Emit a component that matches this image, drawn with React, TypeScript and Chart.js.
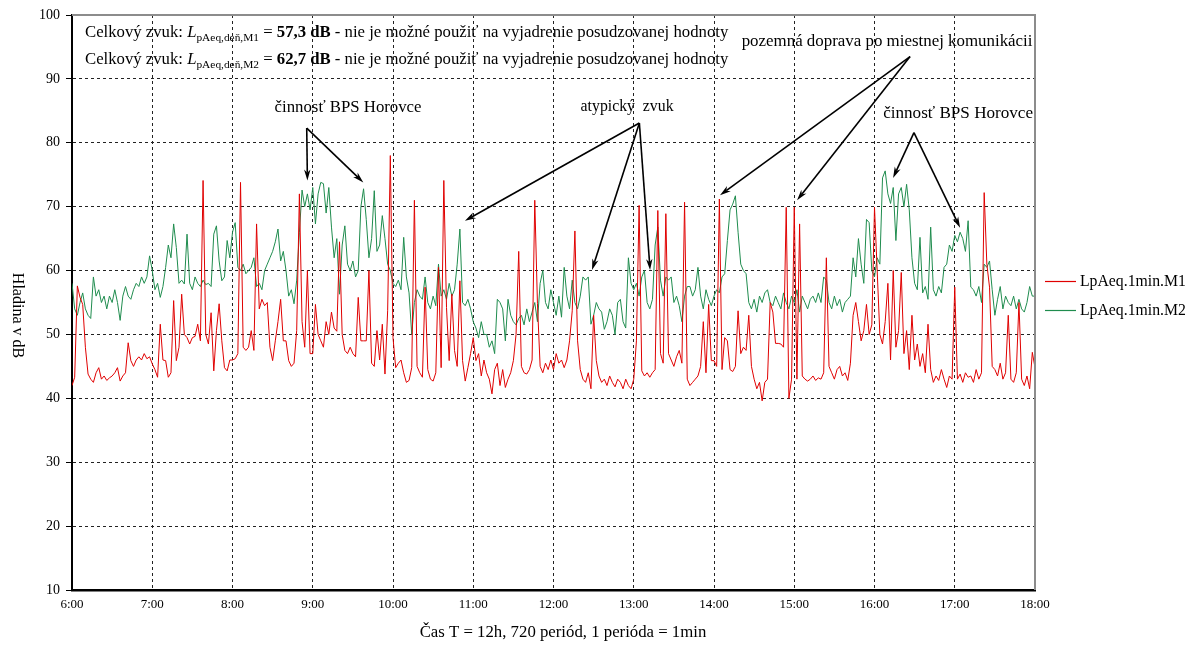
import React, { useEffect, useRef } from "react";
import { Chart, registerables } from "chart.js";

Chart.register(...registerables);

// ---------- data ----------
const hourLabels = ["6:00", "7:00", "8:00", "9:00", "10:00", "11:00", "12:00", "13:00", "14:00", "15:00", "16:00", "17:00", "18:00"];
const stepMinutes = 2; // one value every 2 minutes, 6:00 .. 18:00
const seriesNames = ["LpAeq.1min.M1", "LpAeq.1min.M2"];

const m1 = [
  42, 43.3, 57.6, 55.8, 54.7, 48, 43.8, 43, 42.5, 44,
  44.8, 43, 43.5, 42.8, 43.2, 43.5, 44, 44.8, 42.7, 43.5,
  44, 48.7, 45.9, 45, 46, 46.5, 46, 47, 46.2, 46.5,
  45.4, 44.5, 43.3, 51.6, 46, 45.9, 43.3, 44, 55.3, 45.9,
  48, 56.3, 50, 49.5, 48.5, 49.5, 49.7, 51.6, 49, 74.1,
  50, 48.5, 53.4, 44.3, 50.6, 54.8, 49, 44.8, 44.3, 46,
  46, 46.2, 47, 73.8, 48, 47.5, 48, 50.6, 47.5, 67.3,
  54, 55.5, 54.5, 55, 48, 45.9, 49, 52, 55.5, 49,
  49, 45.9, 45, 45.5, 50.6, 72, 52, 48, 60, 47,
  47, 54.7, 50, 49, 48, 52, 50, 53.5, 51, 50.5,
  64.5, 50, 47.5, 47, 48, 47, 46.5, 55.8, 49, 49,
  49, 60, 45.5, 45, 50.6, 46, 51.6, 43.8, 53.7, 78,
  49.5, 44.8, 45.5, 46, 44, 42.5, 42.8, 44.8, 71, 45,
  44, 43.3, 57.4, 44.5, 43, 42.7, 44, 60.5, 44.8, 74.1,
  54.2, 45.9, 56.3, 47.5, 45, 58.4, 45.9, 42.7, 44.8, 47,
  49.5, 45.9, 47, 43.5, 46, 44, 43, 40.7, 44.5, 45.5,
  42, 44.5, 41.7, 43, 44, 45.9, 50, 63, 45, 44,
  43.8, 44.5, 46, 71, 54.8, 45, 44, 45.5, 44.5, 46,
  44.5, 47, 45.5, 46, 44.8, 46, 49, 53.7, 66.2, 49,
  44.5, 43, 42.5, 44, 41.5, 53, 45.9, 43.5, 42.5, 43,
  42, 43.5, 42.5, 41.8, 43, 42.5, 41.5, 43, 42, 41.5,
  43, 49, 70.2, 44.3, 43.5, 44, 43.3, 44, 44.5, 69.4,
  47, 45.5, 68.9, 47, 46, 45, 46.5, 47.5, 45.5, 70.7,
  43, 42, 42.5, 43, 43.5, 45, 52, 44, 54.7, 45.9,
  45.9, 45, 71.2, 44.5, 49.5, 49, 44.5, 44.2, 45, 53.7,
  47, 48, 47.5, 53, 45, 43, 41.5, 42.5, 39.6, 42.5,
  43, 55, 53.5, 48.6, 48.6, 48.5, 48, 69.9, 40, 43,
  69.9, 43, 67.3, 43.5, 43, 42.7, 43, 43.5, 42.8, 43.2,
  43, 44, 62, 45, 44, 43, 44.5, 45, 43.5, 44,
  42.8, 45.5, 53, 55, 52, 49, 50.6, 54.7, 50, 51.5,
  69.9, 60, 50, 48.5, 52, 58, 46, 60, 48, 50.6,
  59.7, 47, 50.6, 44.5, 53, 46, 48.5, 45, 47, 44,
  51.6, 44.5, 42.5, 43.5, 42.8, 44.5, 43, 41.7, 43.5, 43,
  57.4, 43, 43.8, 42.5, 44, 43.3, 43.5, 42.5, 44.5, 43,
  44, 72.2, 61, 57.4, 45, 44.5, 43.5, 45.5, 43, 44,
  53, 43, 42.5, 44, 55, 43, 42, 43.5, 41.5, 47.2,
  44.8,
];

const m2 = [
  58, 54, 53, 55, 56.5, 54, 53, 52.5, 59, 56,
  57, 55, 56, 54, 56, 55, 57, 55, 52.2, 56,
  57.5, 56, 55.5, 57, 58, 57.5, 59, 58, 59, 62.3,
  60, 57, 58, 55.8, 57.5, 60.5, 64, 62, 67.3, 63.6,
  58, 58.5, 57.9, 65.7, 58, 57, 59, 58, 57.5, 58.5,
  57.8, 58, 57.5, 65.7, 67, 61.5, 58.4, 59, 64.7, 62,
  66, 67.5, 60.5, 60, 61, 59.5, 60, 60.5, 62, 57.5,
  58, 57, 60, 61, 62, 63, 64.5, 66.5, 61.5, 63,
  60, 56, 57, 54.8, 58.5, 66, 72.6, 70, 72, 69.5,
  73, 67.3, 72, 73.8, 73.6, 69, 73, 66.8, 62, 65,
  56.3, 64, 67, 61, 60, 61.5, 59, 60, 70, 72.8,
  68, 62, 65, 72.5, 63, 64, 68.6, 65, 61, 60,
  58, 57.5, 58.5, 57, 65.2, 59, 56.5, 50, 55, 57,
  56, 55.5, 59, 55, 54, 56, 54.5, 61, 56, 57,
  55.5, 58, 56, 57, 61, 66.5, 55, 54.5, 55.5, 54,
  52, 51, 49.5, 52, 50, 50, 48, 49, 47, 55.5,
  55, 54, 49, 55.5, 53, 52, 51.5, 52.5, 53, 51.5,
  54, 52, 53.5, 55, 52, 58, 60, 55, 54, 57,
  55, 53, 56, 52.7, 60.5, 56, 54, 58.5, 55, 54,
  56, 59, 58.5, 59, 51.6, 53, 55, 54, 53.5, 50.8,
  52, 54, 53, 50, 55, 55.5, 52, 51, 62, 58,
  57, 58, 56, 59, 60, 55, 54, 55.5, 64, 66.8,
  58.5, 56, 59, 58.5, 59, 55, 56, 54.5, 52, 56,
  57.5, 57.5, 56, 57, 60.5, 56, 54, 57, 55.5, 54.5,
  56, 57, 56.5, 59, 59.5, 64.7, 69.5, 70.4, 71.7, 66,
  61, 60, 59.5, 55, 54, 55.5, 53.5, 56, 55, 56.5,
  57, 55, 54.5, 56, 55, 54, 56.5, 55, 54, 56,
  55, 57, 53.5, 56, 55, 54, 55.5, 56, 55, 56.5,
  55, 59, 58.5, 55, 54, 56, 54.5, 55.5, 53.5, 55,
  55.5, 56, 62, 59, 65, 61, 58, 68, 67.5, 60,
  59, 62, 61, 74.5, 75.6, 72, 70.5, 73, 64.7, 72,
  73, 70, 73.5, 69.5, 62, 58, 57, 65.2, 56.5, 57.5,
  55.5, 66.8, 57, 56, 57.5, 56.5, 60.5, 61, 64, 63,
  65.5, 64.5, 66, 65, 63, 67.8, 57.4, 57, 56, 57.5,
  55, 61, 60.5, 61.5, 57, 53, 55.5, 57.5, 54, 56,
  55, 54.5, 56, 54, 55.5, 54, 53.5, 55, 57.5, 56,
  56,
];

const totalLabels = ["pAeq,deň,M1", "pAeq,deň,M2"];
const totalValues = ["57,3 dB", "62,7 dB"];

// annotation texts with arrows, anchored in data units (minutes, dB)
const notes = [
  { text: "činnosť BPS Horovce", at: [206.4, 85.45], width: 147, from: [175.5, 82.3], to: [[176, 74.1], [217.8, 73.8]] },
  { text: "atypický  zvuk", at: [415, 85.65], width: 93, from: [424.2, 83.1], to: [[293.8, 67.8], [388.8, 60.1], [432.2, 60.1]] },
  { text: "pozemná doprava po miestnej komunikácii", at: [609.4, 95.8], width: 291, from: [626.6, 93.5], to: [[484.5, 71.8], [542.1, 71.0]] },
  { text: "činnosť BPS Horovce", at: [662.5, 84.66], width: 150, from: [629.5, 81.6], to: [[613.9, 74.5], [664, 66.7]] },
];

const FONT = '"Liberation Serif", "Times New Roman", serif';
const RED = "#e00000";
const GREEN = "#1f8c4e";

function fitSize(ctx: CanvasRenderingContext2D, text: string, weight: string, width: number) {
  ctx.font = `${weight} 100px ${FONT}`;
  return (100 * width) / ctx.measureText(text).width;
}

function arrow(ctx: CanvasRenderingContext2D, x1: number, y1: number, x2: number, y2: number) {
  const ang = Math.atan2(y2 - y1, x2 - x1);
  const len = 11;
  const hw = 3.2;
  ctx.beginPath();
  ctx.moveTo(x1, y1);
  ctx.lineTo(x2 - Math.cos(ang) * len * 0.7, y2 - Math.sin(ang) * len * 0.7);
  ctx.stroke();
  ctx.beginPath();
  ctx.moveTo(x2, y2);
  ctx.lineTo(x2 - Math.cos(ang) * len - Math.sin(ang) * hw, y2 - Math.sin(ang) * len + Math.cos(ang) * hw);
  ctx.lineTo(x2 - Math.cos(ang) * len * 0.7, y2 - Math.sin(ang) * len * 0.7);
  ctx.lineTo(x2 - Math.cos(ang) * len + Math.sin(ang) * hw, y2 - Math.sin(ang) * len - Math.cos(ang) * hw);
  ctx.closePath();
  ctx.fill();
}

const overlay = {
  id: "overlay",
  afterDraw(chart: any) {
    const ctx: CanvasRenderingContext2D = chart.ctx;
    const { left, right, top, bottom } = chart.chartArea;
    const xs = chart.scales.x;
    const ys = chart.scales.y;
    ctx.save();

    // frame: top and right in grey
    ctx.strokeStyle = "#8c8c8c";
    ctx.lineWidth = 2;
    ctx.beginPath();
    ctx.moveTo(left, top);
    ctx.lineTo(right, top);
    ctx.lineTo(right, bottom);
    ctx.stroke();

    ctx.fillStyle = "#000";
    ctx.textBaseline = "middle";

    // axis titles
    ctx.save();
    ctx.translate(17, (top + bottom) / 2 + 13);
    ctx.rotate(Math.PI / 2);
    ctx.textAlign = "center";
    ctx.font = `16px ${FONT}`;
    ctx.fillText("Hladina v dB", 0, 0);
    ctx.restore();

    ctx.textAlign = "center";
    const xt = "Čas T = 12h, 720 periód, 1 perióda = 1min";
    ctx.font = `${fitSize(ctx, xt, "normal", 287)}px ${FONT}`;
    ctx.fillText(xt, 563, 633);

    // total level lines
    for (let k = 0; k < 2; k++) {
      const pieces = [
        { t: "Celkový zvuk: ", st: "normal", sc: 1, dy: 0 },
        { t: "L", st: "italic", sc: 1, dy: 0 },
        { t: totalLabels[k], st: "normal", sc: 0.68, dy: 0.28 },
        { t: " = ", st: "normal", sc: 1, dy: 0 },
        { t: totalValues[k], st: "bold", sc: 1, dy: 0 },
        { t: " - nie je možné použiť na vyjadrenie posudzovanej hodnoty", st: "normal", sc: 1, dy: 0 },
      ];
      const base = 100;
      let w = 0;
      for (const p of pieces) {
        ctx.font = `${p.st} ${base * p.sc}px ${FONT}`;
        w += ctx.measureText(p.t).width;
      }
      const size = (base * 644) / w;
      let x = xs.getPixelForValue(9.7);
      const y = ys.getPixelForValue(k === 0 ? 97.18 : 92.96);
      ctx.textAlign = "left";
      for (const p of pieces) {
        ctx.font = `${p.st} ${size * p.sc}px ${FONT}`;
        ctx.fillText(p.t, x, y + p.dy * size);
        x += ctx.measureText(p.t).width;
      }
    }

    // notes with arrows
    ctx.strokeStyle = "#000";
    ctx.lineWidth = 1.6;
    for (const n of notes) {
      ctx.textAlign = "center";
      ctx.font = `${fitSize(ctx, n.text, "normal", n.width)}px ${FONT}`;
      ctx.fillText(n.text, xs.getPixelForValue(n.at[0]), ys.getPixelForValue(n.at[1]));
      const fx = xs.getPixelForValue(n.from[0]);
      const fy = ys.getPixelForValue(n.from[1]);
      for (const t of n.to) {
        arrow(ctx, fx, fy, xs.getPixelForValue(t[0]), ys.getPixelForValue(t[1]));
      }
    }

    // legend
    const colors = [RED, GREEN];
    const mid = (top + bottom) / 2;
    for (let k = 0; k < 2; k++) {
      const y = mid - 21 + k * 29;
      ctx.strokeStyle = colors[k];
      ctx.lineWidth = 1.2;
      ctx.beginPath();
      ctx.moveTo(right + 10, y);
      ctx.lineTo(right + 41, y);
      ctx.stroke();
      ctx.textAlign = "left";
      ctx.font = `${fitSize(ctx, seriesNames[k], "normal", 106)}px ${FONT}`;
      ctx.fillText(seriesNames[k], right + 45, y);
    }
    ctx.restore();
  },
};

export default function App() {
  const ref = useRef<HTMLCanvasElement>(null);
  useEffect(() => {
    const canvas = ref.current;
    if (!canvas) return;
    const chart = new Chart(canvas, {
      type: "line",
      data: {
        datasets: [
          {
            label: seriesNames[0],
            data: m1.map((v, i) => ({ x: i * stepMinutes, y: v })),
            borderColor: RED,
            borderWidth: 1,
            pointRadius: 0,
            tension: 0,
          },
          {
            label: seriesNames[1],
            data: m2.map((v, i) => ({ x: i * stepMinutes, y: v })),
            borderColor: GREEN,
            borderWidth: 1,
            pointRadius: 0,
            tension: 0,
          },
        ],
      },
      options: {
        animation: false,
        responsive: false,
        devicePixelRatio: 1,
        layout: { padding: { top: 15, right: 159, left: 0, bottom: 0 } },
        plugins: { legend: { display: false }, tooltip: { enabled: false } },
        scales: {
          x: {
            type: "linear",
            min: 0,
            max: 720,
            ticks: {
              stepSize: 60,
              autoSkip: false,
              maxRotation: 0,
              padding: 7,
              color: "#000",
              font: { family: FONT, size: 13 },
              callback: (v: any) => hourLabels[Math.round(Number(v) / 60)] ?? "",
            },
            grid: {
              drawTicks: false,
              lineWidth: 1,
              color: (c: any) => (c.tick && (c.tick.value === 0 || c.tick.value === 720) ? "rgba(0,0,0,0)" : "#222"),
            },
            border: { display: true, color: "#000", width: 2.5, dash: [3, 3] },
            afterFit: (s: any) => {
              s.height = 60;
            },
          },
          y: {
            min: 10,
            max: 100,
            ticks: {
              stepSize: 10,
              padding: 6,
              color: "#000",
              font: { family: FONT, size: 14 },
            },
            grid: {
              drawTicks: true,
              tickLength: 6,
              tickColor: "#000",
              lineWidth: 1,
              color: (c: any) => (c.tick && (c.tick.value === 10 || c.tick.value === 100) ? "rgba(0,0,0,0)" : "#222"),
            },
            border: { display: true, color: "#000", width: 2, dash: [3, 3] },
            afterFit: (s: any) => {
              s.width = 72;
            },
          },
        },
      },
      plugins: [overlay],
    } as any);
    return () => chart.destroy();
  }, []);
  return (
    <div style={{ position: "absolute", left: 0, top: 0, width: 1194, height: 650, background: "#fff" }}>
      <canvas ref={ref} width={1194} height={650} style={{ display: "block" }} />
    </div>
  );
}
